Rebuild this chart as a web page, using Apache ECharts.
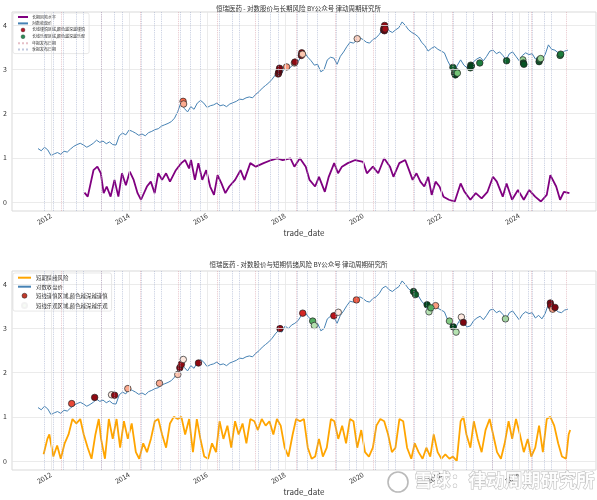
<!DOCTYPE html>
<html>
<head>
<meta charset="utf-8">
<script src="https://cdn.jsdelivr.net/npm/echarts@6/dist/echarts.min.js"></script>
<style>
  html, body { margin: 0; padding: 0; background: #fff; }
  #chart { width: 597px; height: 500px; }
</style>
</head>
<body>
<div id="chart"></div>
<script>
// 对数收盘价（按月读取）
var priceDates = [
  "2011-09","2011-10","2011-11","2011-12",
  "2012-01","2012-02","2012-03","2012-04","2012-05","2012-06","2012-07","2012-08","2012-09","2012-10","2012-11","2012-12",
  "2013-01","2013-02","2013-03","2013-04","2013-05","2013-06","2013-07","2013-08","2013-09","2013-10","2013-11","2013-12",
  "2014-01","2014-02","2014-03","2014-04","2014-05","2014-06","2014-07","2014-08","2014-09","2014-10","2014-11","2014-12",
  "2015-01","2015-02","2015-03","2015-04","2015-05","2015-06","2015-07","2015-08","2015-09","2015-10","2015-11","2015-12",
  "2016-01","2016-02","2016-03","2016-04","2016-05","2016-06","2016-07","2016-08","2016-09","2016-10","2016-11","2016-12",
  "2017-01","2017-02","2017-03","2017-04","2017-05","2017-06","2017-07","2017-08","2017-09","2017-10","2017-11","2017-12",
  "2018-01","2018-02","2018-03","2018-04","2018-05","2018-06","2018-07","2018-08","2018-09","2018-10","2018-11","2018-12",
  "2019-01","2019-02","2019-03","2019-04","2019-05","2019-06","2019-07","2019-08","2019-09","2019-10","2019-11","2019-12",
  "2020-01","2020-02","2020-03","2020-04","2020-05","2020-06","2020-07","2020-08","2020-09","2020-10","2020-11","2020-12",
  "2021-01","2021-02","2021-03","2021-04","2021-05","2021-06","2021-07","2021-08","2021-09","2021-10","2021-11","2021-12",
  "2022-01","2022-02","2022-03","2022-04","2022-05","2022-06","2022-07","2022-08","2022-09","2022-10","2022-11","2022-12",
  "2023-01","2023-02","2023-03","2023-04","2023-05","2023-06","2023-07","2023-08","2023-09","2023-10","2023-11","2023-12",
  "2024-01","2024-02","2024-03","2024-04","2024-05","2024-06","2024-07","2024-08","2024-09","2024-10","2024-11","2024-12",
  "2025-01","2025-02","2025-03","2025-04"
];
var logClose = [
  1.21,1.16,1.24,1.18,
  1.05,1.09,1.12,1.08,1.15,1.13,1.20,1.26,1.30,1.33,1.29,1.24,
  1.28,1.33,1.40,1.35,1.38,1.32,1.36,1.30,1.29,1.50,1.56,1.52,
  1.63,1.60,1.56,1.51,1.54,1.50,1.57,1.60,1.64,1.66,1.72,1.75,
  1.78,1.82,1.90,2.05,2.26,2.12,2.04,2.16,2.10,2.24,2.30,2.24,
  2.14,2.18,2.20,2.24,2.18,2.20,2.16,2.22,2.25,2.28,2.33,2.32,
  2.36,2.38,2.36,2.44,2.50,2.58,2.64,2.70,2.78,2.88,2.96,2.92,
  3.06,3.00,3.08,3.12,3.18,3.30,3.38,3.28,3.20,3.10,3.12,2.95,
  3.00,3.22,3.28,3.26,3.12,3.30,3.40,3.52,3.62,3.60,3.66,3.72,
  3.68,3.62,3.60,3.68,3.72,3.80,3.92,3.96,3.88,3.84,3.90,3.95,
  4.08,4.00,3.90,3.84,3.80,3.74,3.62,3.54,3.42,3.48,3.52,3.46,
  3.42,3.38,3.20,3.06,2.92,3.10,3.22,3.10,3.04,3.06,3.18,3.24,
  3.28,3.20,3.30,3.42,3.44,3.36,3.40,3.32,3.22,3.36,3.40,3.30,
  3.20,3.32,3.38,3.34,3.36,3.24,3.30,3.22,3.34,3.56,3.46,3.44,
  3.38,3.36,3.42,3.44
];

// 长期风险水平
var ltDates = [
  "2012-11-10","2012-12-10","2013-02-03","2013-03-09","2013-04-11","2013-05-07","2013-06-05","2013-07-11","2013-08-17","2013-09-23","2013-10-26","2013-12-02",
  "2014-01-08","2014-02-14","2014-03-20","2014-04-22","2014-06-16","2014-07-22","2014-08-28","2014-10-01","2014-11-06","2014-12-13",
  "2015-01-19","2015-03-13","2015-05-03","2015-06-09","2015-07-15","2015-08-03","2015-09-09","2015-10-11","2015-11-17","2015-12-24",
  "2016-01-30","2016-03-05","2016-04-08","2016-05-14","2016-06-20","2016-07-26","2016-09-20","2016-11-10","2016-12-16",
  "2017-02-10","2017-04-01","2017-06-13","2017-08-25","2017-10-19","2017-12-09",
  "2018-02-21","2018-03-27","2018-05-18","2018-07-12","2018-08-17","2018-10-08","2018-11-14",
  "2019-01-08","2019-02-14","2019-04-04","2019-05-10","2019-06-16","2019-08-10","2019-10-19",
  "2020-01-01","2020-02-06","2020-04-01","2020-05-21","2020-07-15","2020-09-09","2020-10-11","2020-12-05",
  "2021-01-30","2021-03-05","2021-04-08","2021-05-14","2021-06-20","2021-07-26","2021-09-02","2021-10-04","2021-11-10","2021-12-16",
  "2022-01-23","2022-03-13","2022-05-07","2022-07-01","2022-08-07","2022-10-01","2022-11-21",
  "2023-01-15","2023-03-09","2023-04-30","2023-06-05","2023-07-30","2023-09-05","2023-10-26","2023-12-20",
  "2024-02-14","2024-04-04","2024-05-29","2024-07-22","2024-09-16","2024-10-19","2024-12-13",
  "2025-01-19","2025-02-24","2025-04-15"
];
var ltRisk = [
  0.21,0.12,0.72,0.80,0.65,0.20,0.35,0.12,0.50,0.12,0.65,0.38,
  0.69,0.50,0.20,0.05,0.35,0.46,0.20,0.65,0.50,0.65,
  0.46,0.72,0.88,0.95,0.76,0.95,0.50,0.88,0.50,0.72,
  0.35,0.16,0.61,0.42,0.20,0.35,0.50,0.72,0.50,
  0.88,0.80,0.88,0.95,0.99,0.95,
  0.99,0.80,0.99,0.80,0.50,0.35,0.57,
  0.23,0.57,0.88,0.65,0.80,0.88,0.95,
  0.91,0.65,0.80,0.65,0.99,0.80,0.57,0.88,
  0.95,0.72,0.50,0.65,0.46,0.35,0.57,0.16,0.46,0.35,
  0.12,0.05,0.01,0.42,0.23,0.05,0.20,
  0.08,0.23,0.57,0.46,0.12,0.42,0.05,0.27,
  0.05,0.27,0.12,0.01,0.16,0.61,0.35,
  0.05,0.23,0.20
];

// 短期情绪风险
var stDates = [
  "2011-10-23","2011-11-28","2011-12-16",
  "2012-01-23","2012-02-28","2012-04-01","2012-05-07","2012-06-13","2012-07-19","2012-08-25","2012-10-01","2012-11-03","2012-12-10",
  "2013-01-15","2013-02-21","2013-03-22","2013-04-13","2013-05-19","2013-06-25","2013-07-31","2013-09-06","2013-10-09","2013-11-14","2013-12-20",
  "2014-01-26","2014-03-04","2014-04-05","2014-05-12","2014-06-17","2014-07-23","2014-08-29","2014-10-01","2014-11-06","2014-12-13",
  "2015-01-19","2015-02-24","2015-04-01","2015-05-04","2015-06-09","2015-07-16","2015-08-21","2015-09-27","2015-10-30","2015-12-05",
  "2016-01-11","2016-02-17","2016-03-24","2016-04-27","2016-06-02","2016-07-09","2016-08-14","2016-09-20","2016-10-23","2016-11-29",
  "2017-01-04","2017-02-10","2017-03-18","2017-04-20","2017-05-26","2017-07-02","2017-08-07","2017-09-13","2017-10-16","2017-11-21","2017-12-28",
  "2018-02-02","2018-03-11","2018-04-13","2018-05-19","2018-06-25","2018-07-31","2018-09-06","2018-10-09","2018-11-14","2018-12-20",
  "2019-01-26","2019-03-04","2019-04-06","2019-05-12","2019-06-18","2019-07-24","2019-08-30","2019-10-02","2019-11-07","2019-12-14",
  "2020-01-19","2020-02-25","2020-04-01","2020-05-04","2020-06-10","2020-07-16","2020-08-22","2020-09-27","2020-10-30","2020-12-06",
  "2021-01-11","2021-02-17","2021-03-26","2021-04-28","2021-06-03","2021-07-10","2021-08-15","2021-09-21","2021-10-23","2021-11-29",
  "2022-01-04","2022-02-10","2022-03-18","2022-04-20","2022-05-26","2022-07-01","2022-07-27","2022-08-25","2022-10-01","2022-11-03","2022-12-09",
  "2023-01-15","2023-02-21","2023-03-29","2023-05-01","2023-06-07","2023-07-13","2023-08-18","2023-09-24","2023-10-27","2023-12-02",
  "2024-01-08","2024-02-14","2024-03-21","2024-04-23","2024-05-30","2024-07-05","2024-08-10","2024-09-16","2024-10-19","2024-11-25",
  "2025-01-01","2025-02-06","2025-03-14","2025-04-08","2025-04-22"
];
var stRisk = [
  0.15,0.50,0.60,
  0.10,0.35,0.05,0.40,0.60,0.95,0.85,0.95,0.60,0.30,
  0.05,0.60,0.95,0.50,0.05,0.95,0.50,0.95,0.30,0.90,0.50,
  0.85,0.20,0.05,0.40,0.20,0.50,0.90,0.95,0.60,0.30,
  0.85,1.00,0.95,1.00,0.60,0.95,0.20,0.95,0.50,0.10,
  0.05,0.40,0.20,0.90,0.50,0.80,0.30,0.90,0.60,0.85,
  0.40,0.95,0.90,0.70,0.95,0.80,0.90,0.60,0.95,0.80,0.30,
  0.10,0.60,0.95,0.90,0.95,0.30,0.05,0.10,0.50,0.10,
  0.30,0.95,0.90,0.50,0.80,0.40,0.95,0.90,0.30,0.70,
  0.20,0.10,0.30,0.80,0.95,0.90,0.60,0.20,0.30,0.95,
  0.90,0.30,0.05,0.40,0.20,0.05,0.30,0.10,0.60,0.20,
  0.05,0.15,0.05,0.10,0.00,0.90,1.00,0.60,0.30,0.90,0.50,
  0.20,0.70,0.95,0.60,0.20,0.05,0.40,0.90,0.50,0.95,
  0.60,0.20,0.50,0.10,0.30,0.80,0.20,0.95,1.00,0.80,
  0.40,0.10,0.05,0.60,0.70
];

// 区域标记：日期、对数价、颜色深浅
var ltCautionDates = ["2015-05-20","2015-05-25","2017-10-28","2017-11-03","2017-11-05","2017-11-10","2018-01-15","2018-03-27","2018-04-02","2018-06-01","2018-06-05","2018-06-12","2019-11-07","2020-07-10","2020-07-15","2020-07-18","2020-07-20","2020-07-25"];
var ltCautionValues = [2.28,2.22,2.90,2.93,2.96,3.03,3.06,3.15,3.17,3.32,3.38,3.35,3.70,3.90,3.95,3.88,4.00,3.92];
var ltCautionLevels = [0.5,0.3,0.9,0.85,1.0,0.95,0.35,0.1,0.9,0.95,0.9,0.2,0.15,1.0,0.95,1.0,0.9,0.85];

var ltOptimDates = ["2022-04-20","2022-05-05","2022-05-12","2022-05-20","2022-06-01","2022-10-01","2022-10-05","2022-10-10","2022-12-28","2023-09-05","2024-02-05","2024-02-10","2024-02-15","2024-07-05","2024-07-10","2024-07-20","2025-01-19","2025-01-25"];
var ltOptimValues = [3.05,2.92,2.88,2.95,2.92,3.04,3.10,3.08,3.15,3.20,3.22,3.15,3.12,3.18,3.22,3.25,3.32,3.35];
var ltOptimLevels = [0.9,0.95,1.0,0.8,0.5,0.9,0.85,1.0,0.8,0.9,0.4,0.9,0.95,0.9,0.85,0.4,0.75,0.8];

var stCautionDates = ["2012-07-12","2013-02-14","2013-07-20","2013-08-18","2013-12-20","2014-10-12","2015-04-01","2015-04-20","2015-05-04","2015-05-22","2015-10-12","2017-11-14","2018-06-14","2019-04-01","2019-05-12","2019-10-30","2021-11-10","2022-07-08","2022-07-27","2024-10-19","2024-10-23","2024-11-10","2024-12-02"];
var stCautionValues = [1.30,1.44,1.50,1.49,1.64,1.76,1.96,2.11,2.19,2.30,2.22,3.00,3.35,3.29,3.37,3.65,3.52,3.26,3.14,3.58,3.52,3.44,3.48];
var stCautionLevels = [0.6,0.9,0.05,0.9,0.3,0.3,0.2,0.95,0.9,0.05,0.9,0.9,0.7,0.8,0.05,0.55,0.35,0.05,0.95,0.95,0.9,0.35,0.95];

var stOptimDates = ["2018-09-16","2018-10-01","2021-04-16","2021-05-04","2021-08-22","2021-09-09","2021-09-27","2022-03-18","2022-04-23","2022-05-19","2023-08-25"];
var stOptimValues = [3.17,3.07,3.84,3.77,3.54,3.38,3.47,3.17,3.04,2.92,3.22];
var stOptimLevels = [0.6,0.3,0.95,0.9,1.0,0.3,0.6,0.45,1.0,0.3,0.35];

// 财报发布日期
var annualReportDates = ["2012-04-10","2013-04-15","2014-04-18","2015-03-30","2016-03-30","2017-03-28","2018-04-16","2019-04-15","2020-03-30","2021-04-15","2022-04-15","2023-04-20","2024-04-18","2025-03-12"];
var quarterReportDates = [
  "2011-10-25","2012-01-18","2012-04-26","2012-08-20","2012-10-26",
  "2013-04-12","2013-08-16","2013-10-25","2014-04-25","2014-08-22","2014-10-28",
  "2015-04-24","2015-07-30","2015-10-27","2016-04-26","2016-08-25","2016-10-28",
  "2017-04-21","2017-08-17","2017-10-26","2018-04-27","2018-07-25","2018-10-25",
  "2019-04-26","2019-08-26","2019-10-28","2020-04-28","2020-08-20","2020-10-28",
  "2021-04-21","2021-08-19","2021-10-15","2022-04-22","2022-08-26","2022-10-28",
  "2023-04-21","2023-08-22","2023-10-27","2024-03-29","2024-04-30","2024-08-22","2024-10-29"
];

var yearTicks = [2012, 2014, 2016, 2018, 2020, 2022, 2024];
var yTicks = [0, 1, 2, 3, 4];

function toYear(s) {
  var p = s.split("-").map(Number);
  return p[0] + ((p[1] || 1) - 1) / 12 + ((p[2] || 1) - 1) / 365;
}
function pairs(dates, vals) {
  return dates.map(function (d, i) { return [toYear(d), vals[i]]; });
}
var REDS = [[255,245,240],[252,187,161],[251,106,74],[203,24,29],[103,0,13]];
var GREENS = [[247,252,245],[199,233,192],[116,196,118],[35,139,69],[0,68,27]];
function shade(stops, t) {
  var f = Math.max(0, Math.min(1, t)) * (stops.length - 1);
  var i = Math.min(stops.length - 2, Math.floor(f));
  var k = f - i;
  var c = stops[i].map(function (v, j) { return Math.round(v + (stops[i + 1][j] - v) * k); });
  return "rgb(" + c.join(",") + ")";
}
function marks(dates, vals, levels, stops) {
  return dates.map(function (d, i) {
    return { value: [toYear(d), vals[i]], itemStyle: { color: shade(stops, levels[i]) } };
  });
}

var FONT = "Noto Sans CJK SC";
var xMin = 2011.0, xMax = 2025.97;
var yMin = -0.205, yMax = 4.305;
var ANNUAL_C = "rgba(214,150,162,0.6)";
var QUARTER_C = "rgba(150,163,200,0.6)";

function xAxisOf(i) {
  return {
    gridIndex: i, type: "value", min: xMin, max: xMax,
    axisLine: { show: false }, axisTick: { show: false }, splitLine: { show: false },
    axisLabel: {
      customValues: yearTicks, rotate: 30, fontSize: 7, color: "#333", margin: 4,
      formatter: function (v) { return String(Math.round(v)); }
    },
    name: "trade_date", nameLocation: "middle", nameGap: 18,
    nameTextStyle: { fontSize: 8, color: "#333" }
  };
}
function yAxisOf(i) {
  return {
    gridIndex: i, type: "value", min: yMin, max: yMax,
    axisLine: { show: false }, axisTick: { show: false }, splitLine: { show: false },
    axisLabel: { customValues: yTicks, fontSize: 7, color: "#333", margin: 5 }
  };
}
// 背景网格 + 财报日期竖线
function guideSeries(i) {
  var base = { type: "line", xAxisIndex: i, yAxisIndex: i, data: [], symbol: "none", silent: true };
  return [
    Object.assign({}, base, {
      name: "grid" + i, z: 0,
      markLine: {
        symbol: ["none", "none"], silent: true, label: { show: false },
        lineStyle: { color: "#e6e6e6", width: 0.8, type: "solid" },
        data: yTicks.map(function (v) { return { yAxis: v }; })
          .concat(yearTicks.map(function (v) { return { xAxis: v }; }))
      }
    }),
    Object.assign({}, base, {
      name: "年报发布日期", z: 1,
      lineStyle: { color: ANNUAL_C, width: 1, type: "dotted" },
      itemStyle: { color: ANNUAL_C },
      markLine: {
        symbol: ["none", "none"], silent: true, label: { show: false },
        lineStyle: { color: ANNUAL_C, width: 0.9, type: "dotted" },
        data: annualReportDates.map(function (d) { return { xAxis: toYear(d) }; })
      }
    }),
    Object.assign({}, base, {
      name: "季报发布日期", z: 1,
      lineStyle: { color: QUARTER_C, width: 1, type: "dotted" },
      itemStyle: { color: QUARTER_C },
      markLine: {
        symbol: ["none", "none"], silent: true, label: { show: false },
        lineStyle: { color: QUARTER_C, width: 0.9, type: "dotted" },
        data: quarterReportDates.map(function (d) { return { xAxis: toYear(d) }; })
      }
    })
  ];
}
function scatterOf(i, name, data, color) {
  return {
    name: name, type: "scatter", xAxisIndex: i, yAxisIndex: i, z: 4,
    symbol: "circle", symbolSize: 6.5, data: data,
    itemStyle: { color: color, borderColor: "#222", borderWidth: 0.7, opacity: 1 }
  };
}
var NO_SYMBOL = { opacity: 0 };
var THIN_EDGE = { borderWidth: 0.3 };

var chart = echarts.init(document.getElementById("chart"));
var option = {
  animation: false,
  backgroundColor: "#fff",
  textStyle: { fontFamily: FONT },
  title: [
    { text: "恒瑞医药 - 对数股价与长期风险 BY公众号 律动周期研究所", left: "center", top: 0,
      textStyle: { fontSize: 6.5, fontWeight: "normal", color: "#333", fontFamily: FONT } },
    { text: "恒瑞医药 - 对数股价与短期情绪风险 BY公众号 律动周期研究所", left: "center", top: 256,
      textStyle: { fontSize: 6.5, fontWeight: "normal", color: "#333", fontFamily: FONT } }
  ],
  legend: [
    {
      left: 13, top: 13, orient: "vertical", itemWidth: 10, itemHeight: 4, itemGap: 2.4,
      backgroundColor: "#fff", borderColor: "#d8d8d8", borderWidth: 0.6, borderRadius: 2, padding: [2, 4],
      textStyle: { fontSize: 4, color: "#333", fontFamily: FONT, padding: [0, 0, 0, -1] },
      data: [
        { name: "长期风险水平", itemStyle: NO_SYMBOL }, { name: "对数收盘价", itemStyle: NO_SYMBOL },
        { name: "长线谨慎区域,颜色越深越谨慎", icon: "circle", itemStyle: THIN_EDGE },
        { name: "长线乐观区域,颜色越深越乐观", icon: "circle", itemStyle: THIN_EDGE },
        { name: "年报发布日期", itemStyle: NO_SYMBOL }, { name: "季报发布日期", itemStyle: NO_SYMBOL }
      ]
    },
    {
      left: 13, top: 273, orient: "vertical", itemWidth: 13, itemHeight: 5, itemGap: 3.6,
      backgroundColor: "#fff", borderColor: "#d8d8d8", borderWidth: 0.6, borderRadius: 2, padding: [2, 4],
      textStyle: { fontSize: 5.4, color: "#333", fontFamily: FONT },
      data: [
        { name: "短期情绪风险", itemStyle: NO_SYMBOL }, { name: "对数收盘价", itemStyle: NO_SYMBOL },
        { name: "短线谨慎区域,颜色越深越谨慎", icon: "circle", itemStyle: { borderWidth: 0.5 } },
        { name: "短线乐观区域,颜色越深越乐观", icon: "circle", itemStyle: { borderColor: "#f2f2f2" } }
      ]
    }
  ],
  grid: [
    { left: 12, right: 1, top: 12, bottom: 289, show: true, borderColor: "#d9d9d9", borderWidth: 1, backgroundColor: "#fff" },
    { left: 12, right: 1, top: 271, bottom: 30, show: true, borderColor: "#d9d9d9", borderWidth: 1, backgroundColor: "#fff" }
  ],
  xAxis: [xAxisOf(0), xAxisOf(1)],
  yAxis: [yAxisOf(0), yAxisOf(1)],
  graphic: [
    { type: "circle", shape: { cx: 398, cy: 482, r: 10 }, z: 100,
      style: { fill: "rgba(255,255,255,0.8)", stroke: "rgba(140,140,140,0.6)", lineWidth: 1.6 } },
    { type: "text", left: 414, top: 471, z: 100,
      style: { text: "雪球：律动周期研究所", fontSize: 18, fontWeight: "bold", fontFamily: FONT,
        fill: "rgba(255,255,255,0.9)", stroke: "rgba(130,130,130,0.55)", lineWidth: 1 } }
  ],
  series: [].concat(
    guideSeries(0),
    [
      { name: "长期风险水平", type: "line", xAxisIndex: 0, yAxisIndex: 0, z: 2, symbol: "none",
        data: pairs(ltDates, ltRisk), lineStyle: { color: "#800080", width: 1.8 }, itemStyle: { color: "#800080" } },
      { name: "对数收盘价", type: "line", xAxisIndex: 0, yAxisIndex: 0, z: 3, symbol: "none",
        data: pairs(priceDates, logClose), lineStyle: { color: "#4682b4", width: 1 }, itemStyle: { color: "#4682b4" } },
      scatterOf(0, "长线谨慎区域,颜色越深越谨慎", marks(ltCautionDates, ltCautionValues, ltCautionLevels, REDS), "#b2182b"),
      scatterOf(0, "长线乐观区域,颜色越深越乐观", marks(ltOptimDates, ltOptimValues, ltOptimLevels, GREENS), "#2e8b57")
    ],
    guideSeries(1),
    [
      { name: "短期情绪风险", type: "line", xAxisIndex: 1, yAxisIndex: 1, z: 2, symbol: "none",
        data: pairs(stDates, stRisk), lineStyle: { color: "#ffa500", width: 1.8 }, itemStyle: { color: "#ffa500" } },
      { name: "对数收盘价", type: "line", xAxisIndex: 1, yAxisIndex: 1, z: 3, symbol: "none",
        data: pairs(priceDates, logClose), lineStyle: { color: "#4682b4", width: 1 }, itemStyle: { color: "#4682b4" } },
      scatterOf(1, "短线谨慎区域,颜色越深越谨慎", marks(stCautionDates, stCautionValues, stCautionLevels, REDS), "#c0392b"),
      scatterOf(1, "短线乐观区域,颜色越深越乐观", marks(stOptimDates, stOptimValues, stOptimLevels, GREENS), "#f7fcf5")
    ]
  )
};
chart.setOption(option);
window.addEventListener("resize", function () { chart.resize(); });
</script>
</body>
</html>
